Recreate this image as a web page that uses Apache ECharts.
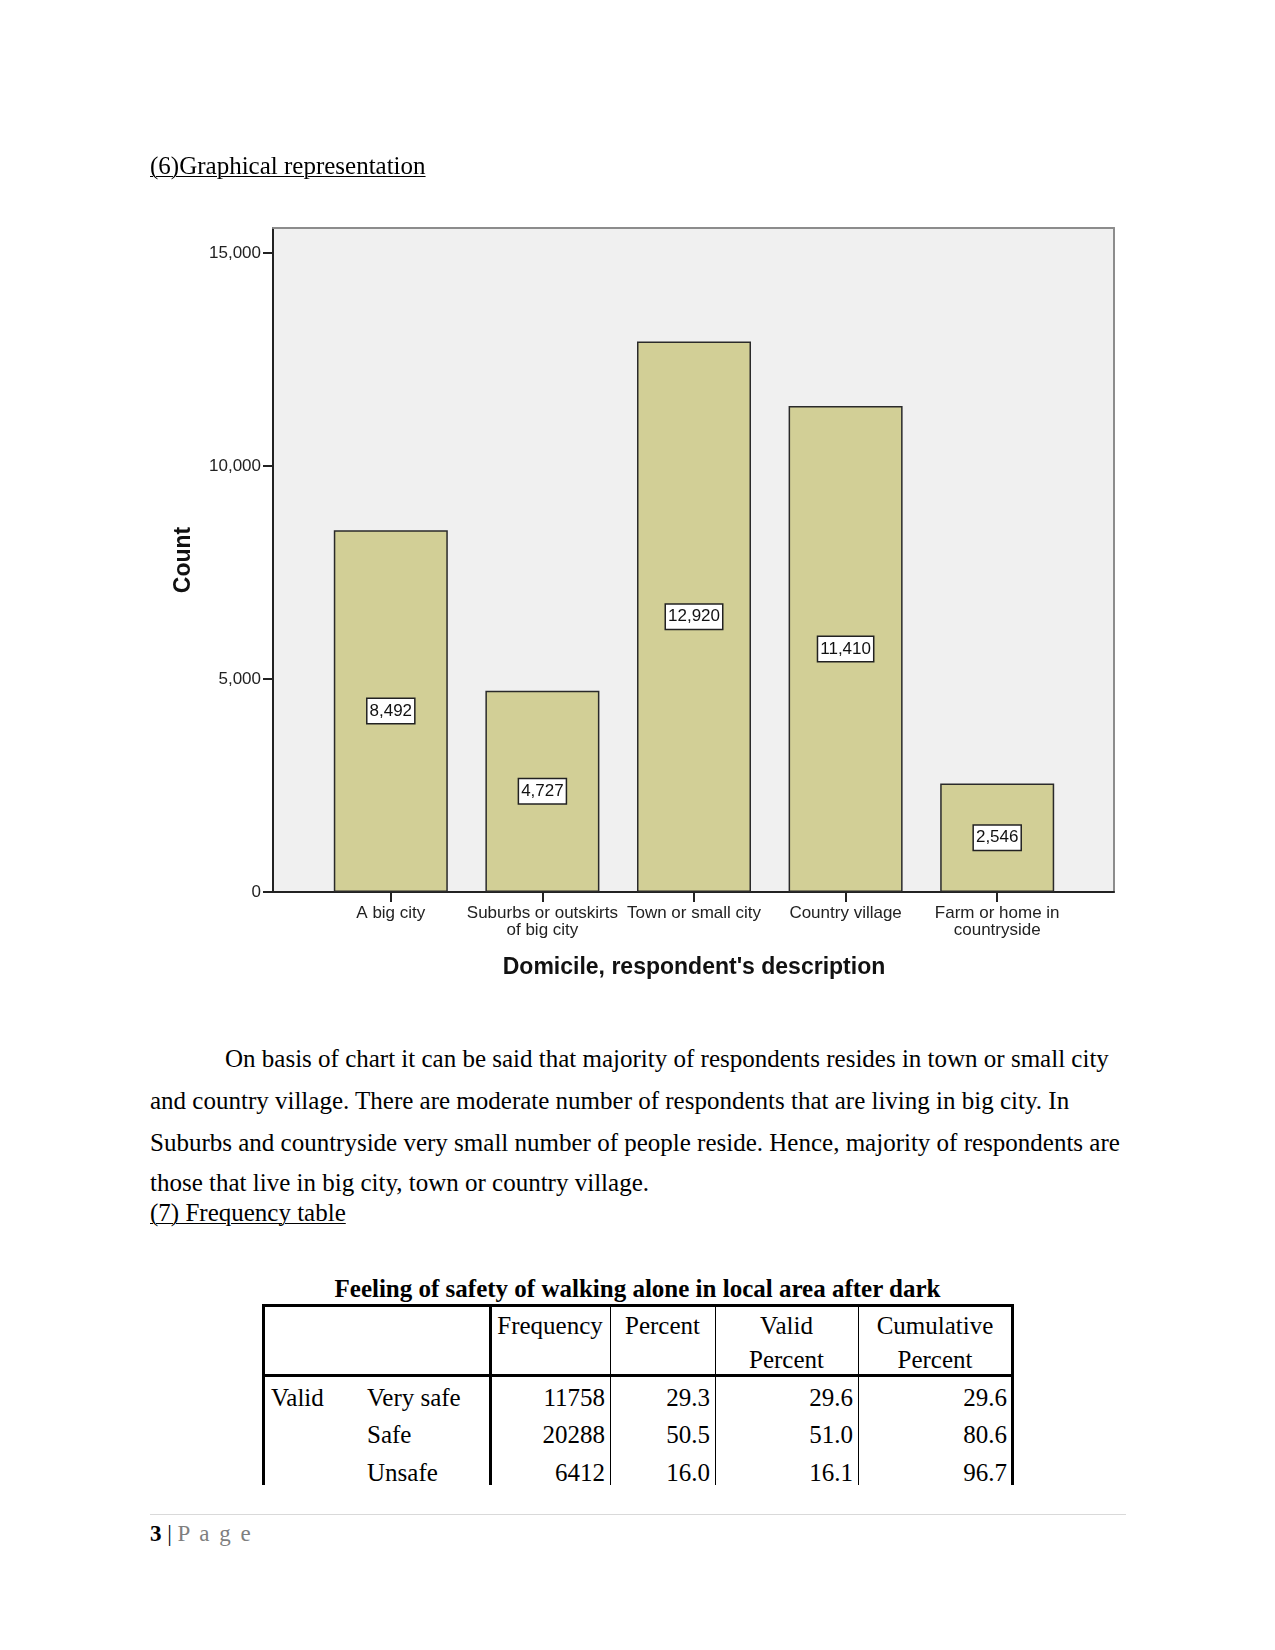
<!DOCTYPE html>
<html>
<head>
<meta charset="utf-8">
<script src="https://cdn.jsdelivr.net/npm/echarts@6/dist/echarts.min.js"></script>
<style>
  html, body { margin:0; padding:0; background:#fff; }
  body { width:1275px; height:1650px; position:relative; overflow:hidden; }
  #chart { position:absolute; left:0; top:0; width:1275px; height:1000px; }
  .t { position:absolute; font-family:'Liberation Serif','Times New Roman',serif; font-size:25px; line-height:25px; white-space:nowrap; color:#000; }
  .u { text-decoration:underline; text-underline-offset:2px; text-decoration-thickness:1px; }
  .b { font-weight:bold; }
  .c { text-align:center; }
  .r { text-align:right; }
  .hl { position:absolute; background:#000; }
</style>
</head>
<body>
<div id="chart"></div>

<div class="t u" style="left:150px; top:153px;">(6)Graphical representation</div>

<div class="t" style="left:225px; top:1046px;">On basis of chart it can be said that majority of respondents resides in town or small city</div>
<div class="t" style="left:150px; top:1088px;">and country village. There are moderate number of respondents that are living in big city. In</div>
<div class="t" style="left:150px; top:1130px;">Suburbs and countryside very small number of people reside. Hence, majority of respondents are</div>
<div class="t" style="left:150px; top:1170px;">those that live in big city, town or country village.</div>
<div class="t u" style="left:150px; top:1200px;">(7) Frequency table</div>

<div class="t b c" style="left:263px; width:749px; top:1276px;">Feeling of safety of walking alone in local area after dark</div>

<div id="table"></div>

<div style="position:absolute; left:150px; top:1514px; width:976px; height:1px; background:#d9d9d9;"></div>
<div class="t" style="left:150px; top:1522px; font-size:23px; line-height:23px;"><b>3</b> | <span style="color:#7f7f7f; letter-spacing:2px;">P a g e</span></div>

<script>
// ---- chart data ----
const categories = ['A big city', 'Suburbs or outskirts\nof big city', 'Town or small city', 'Country village', 'Farm or home in\ncountryside'];
const counts = [8492, 4727, 12920, 11410, 2546];
const yTickValues = [0, 5000, 10000, 15000];
const yAxisTitle = 'Count';
const xAxisTitle = "Domicile, respondent's description";

// ---- table data ----
const tableHeader = [['Frequency'], ['Percent'], ['Valid', 'Percent'], ['Cumulative', 'Percent']];
const rowGroup = ['Valid', '', ''];
const rowLabels = ['Very safe', 'Safe', 'Unsafe'];
const frequency = ['11758', '20288', '6412'];
const percent = ['29.3', '50.5', '16.0'];
const validPercent = ['29.6', '51.0', '16.1'];
const cumulativePercent = ['29.6', '80.6', '96.7'];

const fmt = v => Number(v).toLocaleString('en-US');
const sansFont = "'Liberation Sans', Arial, sans-serif";

const chart = echarts.init(document.getElementById('chart'), null, {renderer: 'canvas'});
const hiddenAxis = (pos, color, width, extra) => Object.assign({
  type: 'value', gridIndex: 0, position: pos, min: 0, max: 1,
  axisLine: {show: true, onZero: false, lineStyle: {color: color, width: width}},
  axisTick: {show: false}, axisLabel: {show: false}, splitLine: {show: false}
}, extra || {});

chart.setOption({
  animation: false,
  grid: [
    {left: 273, top: 228, width: 841, height: 664, show: true, backgroundColor: '#f0f0f0', borderWidth: 0, containLabel: false},
    {left: 315, top: 253, width: 758, height: 639, containLabel: false}
  ],
  xAxis: [
    hiddenAxis('bottom', '#222', 2),
    hiddenAxis('top', '#8c8c8c', 2),
    {
      type: 'category', gridIndex: 1, data: categories, position: 'bottom',
      axisLine: {show: false},
      axisTick: {show: true, alignWithLabel: true, length: 10, lineStyle: {color: '#222', width: 2}},
      axisLabel: {interval: 0, fontSize: 17, lineHeight: 17, margin: 13, color: '#222', fontFamily: sansFont},
      name: xAxisTitle, nameLocation: 'middle', nameGap: 64,
      nameTextStyle: {fontSize: 23, fontWeight: 'bold', color: '#111', fontFamily: sansFont}
    }
  ],
  yAxis: [
    hiddenAxis('left', '#222', 2, {
      name: yAxisTitle, nameLocation: 'middle', nameGap: 78,
      nameTextStyle: {fontSize: 23, fontWeight: 'bold', color: '#111', fontFamily: sansFont}
    }),
    hiddenAxis('right', '#8c8c8c', 2),
    {
      type: 'value', gridIndex: 1, position: 'left', offset: 42,
      min: yTickValues[0], max: yTickValues[yTickValues.length - 1], interval: yTickValues[1] - yTickValues[0],
      axisLine: {show: false},
      axisTick: {show: true, length: 10, lineStyle: {color: '#222', width: 2}},
      axisLabel: {fontSize: 17, color: '#222', margin: 12, fontFamily: sansFont, formatter: fmt},
      splitLine: {show: false}
    }
  ],
  series: [{
    type: 'bar', xAxisIndex: 2, yAxisIndex: 2, data: counts, barWidth: 114,
    itemStyle: {color: '#d2cf96', borderColor: '#2a2a2a', borderWidth: 1.5},
    label: {
      show: true, position: 'inside', formatter: p => fmt(p.value),
      fontSize: 17, color: '#111', fontFamily: sansFont,
      backgroundColor: '#ffffff', borderColor: '#222', borderWidth: 1.5, padding: [4, 2, 3, 2]
    }
  }]
});

// ---- table ----
(function(){
  const t = document.getElementById('table');
  const add = (html) => t.insertAdjacentHTML('beforeend', html);
  const top = 1304, bottom = 1485;
  const cols = [263, 490, 610, 715, 858, 1012];
  add(`<div class="hl" style="left:${cols[0]-1}px; top:${top}px; width:${cols[5]-cols[0]+3}px; height:3px;"></div>`);
  add(`<div class="hl" style="left:${cols[0]-1}px; top:1374px; width:${cols[5]-cols[0]+3}px; height:3px;"></div>`);
  const widths = [3, 3, 1, 1, 1, 3];
  cols.forEach((x, i) => {
    const w = widths[i];
    add(`<div class="hl" style="left:${x - Math.floor(w/2)}px; top:${top}px; width:${w}px; height:${bottom-top}px;"></div>`);
  });
  const headBase = [1334, 1368];
  tableHeader.forEach((lines, i) => {
    const l = cols[i+1], w = cols[i+2] - cols[i+1];
    lines.forEach((s, j) => add(`<div class="t c" style="left:${l}px; width:${w}px; top:${headBase[j]-21}px;">${s}</div>`));
  });
  const rowBase = [1406, 1443, 1481];
  const numCols = [frequency, percent, validPercent, cumulativePercent];
  rowLabels.forEach((lab, r) => {
    const tp = rowBase[r] - 21;
    if (rowGroup[r]) add(`<div class="t" style="left:271px; top:${tp}px;">${rowGroup[r]}</div>`);
    add(`<div class="t" style="left:367px; top:${tp}px;">${lab}</div>`);
    numCols.forEach((arr, c) => {
      const right = 1275 - (cols[c+2] - 5);
      add(`<div class="t r" style="right:${right}px; top:${tp}px;">${arr[r]}</div>`);
    });
  });
})();
</script>
</body>
</html>
